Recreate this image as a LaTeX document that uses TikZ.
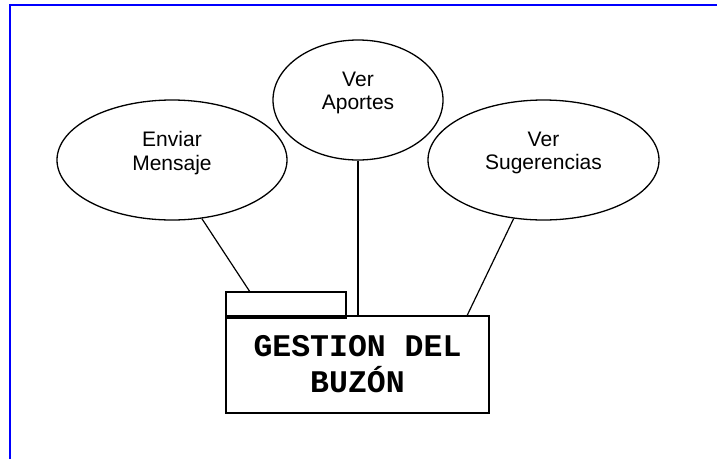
\documentclass[tikz,border=0pt]{standalone}
\usepackage{fontspec}
\setmainfont{Liberation Sans}
\newfontfamily\cajafont{Liberation Mono}
\usetikzlibrary{shapes.geometric,calc}

\begin{document}
\begin{tikzpicture}[
    x=1pt, y=-1pt,
    casouso/.style={ellipse, draw, line width=1.3pt, inner sep=0pt},
    texto/.style={align=center, font=\fontsize{21}{23.5}\selectfont},
    paquete/.style={rectangle, draw, line width=1.3pt, inner sep=0pt},
    enlace/.style={line width=1.2pt}
]
\useasboundingbox (0,0) rectangle (717,459);

% Marco de la pagina
\draw[blue, line width=2pt] (10,459) -- (10,4.5) -- (717,4.5);

% Casos de uso
\node[casouso, minimum width=230pt, minimum height=120pt] (enviar) at (172,160) {};
\node[casouso, minimum width=170pt, minimum height=120pt] (aportes) at (358,100) {};
\node[casouso, minimum width=231pt, minimum height=120pt] (sugerencias) at (543.5,160) {};

\node[texto] (tenviar) at ([yshift=7pt]enviar.center) {Enviar\\Mensaje};
\node[texto] (taportes) at ([yshift=7pt]aportes.center) {Ver\\Aportes};
\node[texto] (tsugerencias) at ([yshift=7pt]sugerencias.center) {Ver\\Sugerencias};

% Paquete
\node[paquete, minimum width=120pt, minimum height=26pt] (pestana) at (286,305) {};
\node[paquete, minimum width=263pt, minimum height=97pt, align=center,
      font=\cajafont\bfseries\fontsize{31.5}{36}\selectfont] (caja) at (357.5,364.5)
      {GESTION DEL\\BUZÓN};

% Enlaces
\draw[enlace] (enviar.-63) -- ($(pestana.north west)!0.2!(pestana.north east)$);
\draw[enlace] (aportes.south) -- (aportes.south |- caja.north);
\draw[enlace] (sugerencias.-117) -- ($(caja.north west)!0.915!(caja.north east)$);

\end{tikzpicture}
\end{document}
